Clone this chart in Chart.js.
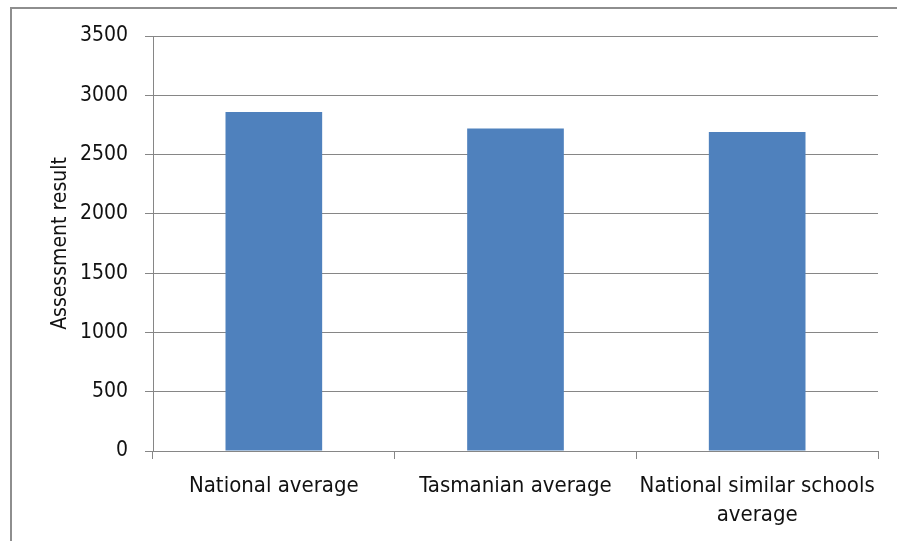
<!DOCTYPE html>
<html>
<head>
<meta charset="utf-8">
<script src="https://cdn.jsdelivr.net/npm/chart.js@4/dist/chart.umd.min.js"></script>
<style>
  html, body { margin: 0; padding: 0; background: #fff; }
  #wrap { position: relative; width: 897px; height: 541px; overflow: hidden; }
  #frame { position: absolute; left: 10px; top: 7px; width: 1000px; height: 1000px;
           border-left: 2px solid #8e8e8e; border-top: 2px solid #8e8e8e; }
  canvas { position: absolute; left: 0; top: 0; }
</style>
</head>
<body>
<div id="wrap">
  <div id="frame"></div>
  <canvas id="bar-chart" width="897" height="541"></canvas>
</div>
<script>
var categories = ["National average", "Tasmanian average", ["National similar schools", "average"]];
var results = [2860, 2720, 2690];
var yTicks = [0, 500, 1000, 1500, 2000, 2500, 3000, 3500];

var fontFamily = "'Liberation Sans Narrow', 'DejaVu Sans Condensed', 'Noto Sans', sans-serif";

var resultChart = document.getElementById("bar-chart");

new Chart(resultChart, {
  type: "bar",
  data: {
    labels: categories,
    datasets: [
      {
        label: "Assessment result",
        backgroundColor: "#4F81BD",
        data: results,
        barPercentage: 0.4,
        categoryPercentage: 1
      }
    ]
  },
  options: {
    responsive: false,
    animation: false,
    layout: {
      padding: { left: 40, right: 19, top: 36, bottom: 0 }
    },
    plugins: {
      legend: { display: false },
      tooltip: { enabled: false }
    },
    scales: {
      x: {
        grid: {
          offset: true,
          drawOnChartArea: false,
          color: "#868686",
          tickLength: 8
        },
        border: { color: "#868686" },
        ticks: {
          color: "#111",
          font: { family: fontFamily, size: 22, lineHeight: 1.35 },
          padding: 12,
          maxRotation: 0,
          autoSkip: false
        },
        afterFit: function (scale) {
          scale.height = 90;
        }
      },
      y: {
        min: 0,
        max: 3500,
        afterBuildTicks: function (scale) {
          scale.ticks = yTicks.map(function (v) { return { value: v }; });
        },
        grid: {
          color: "#868686",
          tickLength: 8
        },
        border: { color: "#868686" },
        ticks: {
          color: "#111",
          font: { family: fontFamily, size: 21 },
          padding: 17,
          callback: function (value) { return String(value); }
        },
        title: {
          display: true,
          text: "Assessment result",
          color: "#111",
          font: { family: fontFamily, size: 21 },
          padding: { top: 8, bottom: 0 }
        },
        afterFit: function (scale) {
          scale.width = 113;
        }
      }
    }
  }
});
</script>
</body>
</html>
